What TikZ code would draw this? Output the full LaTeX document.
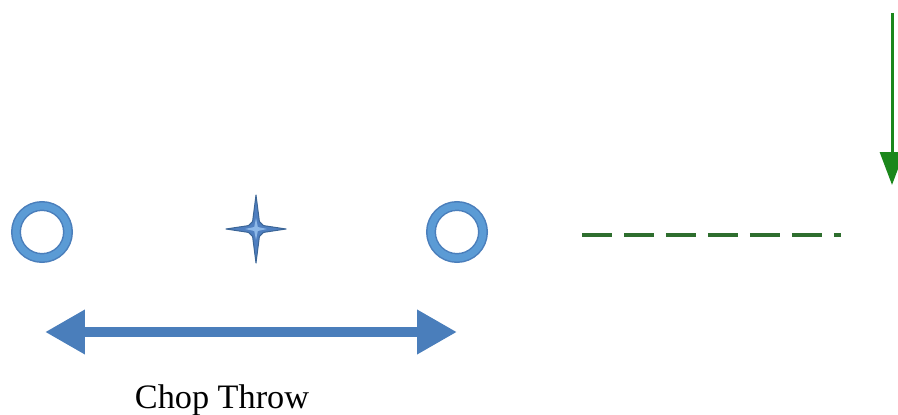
\documentclass[tikz,border=0pt]{standalone}
\usepackage{fontspec}
\setmainfont{Liberation Serif}
\usetikzlibrary{arrows.meta}

\definecolor{ringblue}{HTML}{5B9BD5}
\definecolor{edgeblue}{HTML}{4A7EBB}
\definecolor{starblue}{HTML}{4F7FC0}
\definecolor{starlight}{HTML}{8DB8E8}
\definecolor{dashgreen}{HTML}{2E6E2E}
\definecolor{arrowgreen}{HTML}{1B871B}

\tikzset{
  ring/.style={circle, inner sep=0pt, minimum size=1.04cm, draw=edgeblue,
    line width=0.03cm, double=ringblue, double distance=0.14cm},
  throw/.style={draw=edgeblue, line width=0.2cm,
    {Triangle[length=0.8cm,width=0.84cm]}-{Triangle[length=0.8cm,width=0.84cm]}},
  cutline/.style={draw=dashgreen, line width=0.07cm, dash pattern=on 0.6cm off 0.24cm},
  feed/.style={draw=arrowgreen, line width=0.06cm, -{Triangle[length=0.66cm,width=0.48cm]}}
}

\begin{document}
\begin{tikzpicture}[x=0.02cm, y=-0.02cm]
\useasboundingbox (0,0) rectangle (898,415);

% Rings
\node[ring] (lring) at (42,232) {};
\node[ring] (rring) at (457,232) {};

% Pivot star
\coordinate (pivot) at (256,229);
\filldraw[fill=starblue, draw=edgeblue!80!black, line width=0.02cm, line join=round, shift={(pivot)}]
  (0,-34) -- (3.4,-7.5) -- (7.5,-3.4) -- (30,0) -- (7.5,3.4)
  -- (3.4,7.5) -- (0,34) -- (-3.4,7.5) -- (-7.5,3.4) -- (-30,0) -- (-7.5,-3.4) -- (-3.4,-7.5) -- cycle;
\fill[starlight, shift={(pivot)}] (0,-11) -- (1.8,-2) -- (11,0) -- (1.8,2) -- (0,11)
  -- (-1.8,2) -- (-11,0) -- (-1.8,-2) -- cycle;

% Chop throw arrow
\coordinate (tl) at (45,332);
\coordinate (tr) at (457,332);
\draw[throw] (tl) -- (tr);
\node[anchor=base, font=\fontsize{19.5}{23}\selectfont] (throwlabel) at (222,408) {Chop Throw};

% Dashed line
\coordinate (da) at (582,235);
\coordinate (db) at (841,235);
\draw[cutline] (da) -- (db);

% Green arrow
\coordinate (fa) at (892,13);
\coordinate (fb) at (892,185);
\draw[feed] (fa) -- (fb);
\end{tikzpicture}
\end{document}
